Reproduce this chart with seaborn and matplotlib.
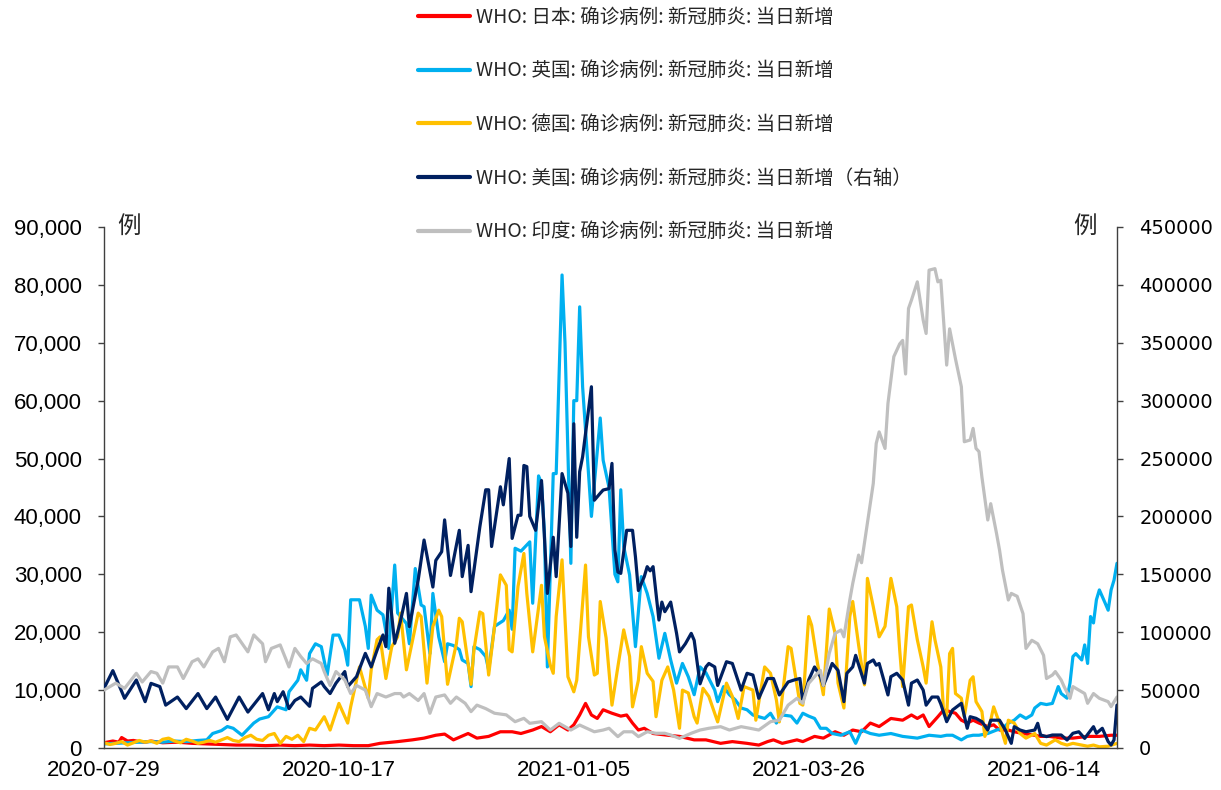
import numpy as np
import pandas as pd
import matplotlib.pyplot as plt
import matplotlib.dates as mdates
from matplotlib.ticker import FuncFormatter, MultipleLocator
import seaborn as sns

START = pd.Timestamp("2020-07-29")
END_DAY = 345

# --- data: day offset from START, daily new cases ---
jp_day = [0, 3, 5, 6, 8, 10, 12, 14, 16, 20, 25, 30, 35, 40, 45, 50, 55, 60, 65, 70, 75, 80, 85, 90,
          94, 100, 105, 109, 113, 116, 119, 124, 127, 131, 135, 139, 142, 146, 149, 152, 155, 158,
          160, 162, 164, 166, 168, 170, 173, 176, 178, 180, 182, 184, 187, 192, 196, 201, 205, 210,
          214, 219, 223, 226, 228, 231, 236, 238, 242, 245, 249, 252, 255, 258, 261, 264, 268, 272,
          275, 277, 279, 281, 284, 286, 288, 290, 292, 294, 296, 298, 301, 303, 305, 308, 310, 313,
          317, 319, 322, 326, 330, 335, 339, 343, 345]
jp_val = [900, 1200, 1000, 1800, 1200, 1300, 1100, 1000, 1200, 900, 1000, 800, 700, 600, 500, 500,
          400, 500, 400, 500, 400, 500, 400, 400, 800, 1100, 1400, 1700, 2200, 2400, 1400, 2500,
          1700, 2000, 2800, 2800, 2500, 3100, 3700, 2800, 4000, 3100, 4000, 5700, 7700, 5700, 5100,
          6600, 6000, 5500, 5700, 4300, 3100, 3400, 2500, 2200, 2000, 1400, 1400, 800, 1100, 800,
          500, 1100, 1400, 800, 1400, 1100, 2000, 1700, 2800, 2200, 3100, 2800, 4300, 3700, 5100,
          4800, 5700, 5100, 5700, 3700, 5400, 6600, 6300, 6000, 4800, 4300, 4800, 4300, 3700, 4000,
          3100, 3100, 2800, 2500, 2200, 2000, 2000, 1700, 1700, 2000, 2000, 2200, 2200]

uk_day = [0, 4, 8, 12, 16, 20, 24, 28, 32, 35, 37, 40, 42, 44, 47, 51, 53, 56, 59, 62, 63, 66, 67,
          69, 70, 72, 74, 76, 78, 80, 82, 83, 84, 87, 89, 90, 91, 93, 95, 97, 99, 100, 103, 104, 106,
          108, 109, 111, 112, 114, 116, 117, 119, 121, 122, 124, 125, 126, 128, 130, 131, 133, 136,
          138, 139, 140, 142, 145, 146, 148, 149, 150, 151, 153, 154, 156, 157, 159, 160, 161, 162,
          163, 165, 166, 169, 170, 172, 174, 175, 176, 177, 179, 181, 183, 185, 187, 189, 191, 193,
          195, 197, 199, 201, 203, 205, 208, 209, 211, 213, 215, 217, 219, 221, 225, 227, 229, 231,
          234, 236, 238, 240, 242, 244, 246, 248, 251, 254, 256, 258, 261, 264, 268, 272, 277, 281,
          285, 287, 289, 292, 294, 296, 298, 301, 304, 306, 308, 310, 312, 314, 316, 317, 319, 321,
          323, 325, 326, 328, 329, 330, 331, 333, 334, 335, 336, 337, 338, 339, 341, 342, 343, 344,
          345]
uk_val = [700, 800, 900, 1000, 1100, 1000, 1200, 1100, 1300, 1400, 2500, 3000, 3700, 3400, 2200,
          4300, 5000, 5400, 7100, 6600, 9700, 11700, 13500, 11700, 16300, 18000, 17500, 12600, 19500,
          19500, 17000, 14300, 25600, 25600, 21000, 17200, 26400, 23800, 23000, 17200, 31600, 23300,
          21500, 18000, 31000, 24700, 24400, 16300, 26700, 19200, 14900, 18000, 17700, 17000, 15200,
          14600, 10600, 17500, 17000, 15800, 13500, 21000, 22000, 23800, 20500, 34500, 34000, 35600,
          25000, 47000, 45700, 37000, 14000, 47400, 47400, 81700, 70000, 31900, 60000, 60000, 76200,
          62400, 47400, 40000, 57000, 49700, 45000, 30000, 28700, 44600, 34800, 29900, 17500, 29600,
          26700, 22700, 15500, 19800, 15200, 11200, 14600, 12300, 9200, 14000, 13000, 10000, 8000,
          10600, 9200, 8300, 6900, 6600, 5700, 5100, 6000, 4300, 5700, 5500, 4300, 6000, 5500, 5100,
          3400, 3400, 2500, 2200, 2800, 800, 3100, 2500, 2200, 2500, 2000, 1700, 2200, 2000, 2200,
          2200, 1400, 2000, 2200, 2200, 2500, 3100, 3400, 4300, 4800, 5700, 5100, 5700, 6900, 7700,
          7500, 7700, 10600, 9400, 8600, 11200, 15800, 16300, 15200, 17800, 14600, 22700, 21600,
          25600, 27300, 25000, 23800, 27300, 29000, 31900]

de_day = [0, 2, 4, 6, 8, 10, 12, 14, 16, 18, 20, 22, 24, 26, 28, 30, 32, 34, 36, 38, 40, 42, 44, 46,
          48, 50, 52, 54, 56, 58, 60, 62, 64, 66, 68, 70, 72, 75, 77, 80, 83, 84, 86, 87, 90, 91, 93,
          94, 96, 98, 100, 101, 103, 107, 108, 110, 112, 114, 115, 117, 120, 121, 122, 125, 126, 128,
          129, 131, 133, 135, 137, 138, 139, 141, 143, 144, 146, 149, 150, 152, 153, 154, 156, 158,
          160, 161, 164, 165, 167, 168, 169, 171, 173, 175, 177, 179, 180, 182, 183, 185, 187, 188,
          190, 192, 194, 196, 197, 199, 201, 202, 204, 206, 209, 212, 214, 216, 218, 221, 222, 225,
          227, 229, 230, 233, 234, 235, 237, 238, 240, 241, 243, 245, 247, 249, 250, 252, 254, 255,
          257, 259, 260, 262, 264, 266, 268, 270, 271, 272, 274, 275, 277, 279, 280, 282, 283, 285,
          286, 287, 288, 289, 290, 292, 293, 295, 296, 297, 299, 300, 302, 303, 305, 307, 308, 310,
          312, 314, 317, 319, 321, 324, 326, 328, 330, 333, 335, 337, 339, 342, 345]
de_val = [900, 600, 800, 1100, 500, 900, 1300, 1000, 1200, 800, 1500, 1700, 1200, 900, 1500, 1200,
          800, 1000, 1300, 1000, 1400, 1800, 1300, 1100, 1800, 2200, 1500, 1300, 2200, 2500, 800,
          2000, 1500, 2200, 1100, 3400, 3100, 5400, 3100, 7700, 4300, 7100, 11700, 14000, 8600,
          13500, 18700, 19200, 12000, 17500, 19200, 23300, 13500, 23300, 22700, 11200, 21000, 23800,
          22700, 11000, 18000, 22400, 21800, 11000, 17000, 23500, 23200, 12600, 21000, 29900, 28100,
          17000, 16600, 27900, 33600, 26700, 16600, 28100, 19200, 14300, 12900, 22700, 32500, 12300,
          9700, 11700, 31600, 19200, 12600, 12900, 25300, 19000, 7400, 14000, 20400, 15800, 7100,
          11700, 17500, 12900, 11500, 5400, 11700, 14000, 10000, 3400, 10000, 9500, 5400, 4300,
          10300, 8900, 4500, 11200, 8900, 5100, 10600, 10000, 4800, 14000, 12900, 8300, 4500, 17500,
          17200, 14000, 7700, 7400, 22700, 21200, 14600, 9200, 24000, 19800, 11200, 6900, 22700,
          25300, 17800, 10900, 29300, 24400, 19200, 21000, 29300, 24400, 16900, 10600, 24400, 24700,
          18700, 14000, 11200, 21800, 18700, 14000, 6000, 5500, 16300, 17200, 9400, 8600, 5400,
          11700, 12300, 8000, 6300, 2000, 4800, 7100, 4300, 800, 4800, 4300, 2500, 1700, 2500, 800,
          500, 1400, 800, 500, 800, 500, 300, 500, 200, 300, 800]

us_day = [0, 3, 7, 11, 14, 16, 19, 21, 25, 28, 32, 35, 38, 42, 46, 49, 54, 56, 58, 59, 61, 63, 65,
          67, 70, 71, 74, 75, 77, 79, 82, 83, 86, 89, 91, 93, 95, 96, 97, 99, 101, 103, 104, 107, 109,
          112, 113, 115, 116, 118, 121, 122, 124, 125, 128, 130, 131, 132, 135, 136, 138, 139, 141,
          142, 143, 144, 145, 147, 149, 151, 153, 154, 156, 158, 159, 160, 161, 162, 163, 166, 167,
          169, 170, 172, 173, 174, 175, 176, 178, 180, 181, 182, 184, 185, 186, 187, 189, 190, 191,
          193, 195, 196, 198, 200, 201, 203, 205, 206, 208, 209, 212, 214, 217, 219, 221, 223, 226,
          228, 230, 233, 235, 237, 238, 240, 242, 244, 245, 247, 248, 250, 252, 253, 255, 256, 259,
          260, 262, 263, 264, 267, 268, 270, 272, 274, 275, 277, 279, 280, 282, 284, 285, 287, 289,
          292, 294, 295, 297, 299, 301, 302, 305, 307, 309, 310, 312, 314, 317, 318, 319, 321, 323,
          326, 328, 330, 332, 334, 337, 338, 340, 342, 343, 344, 345]
us_val = [51500, 66800, 42900, 58700, 40000, 55800, 53000, 37000, 44000, 34000, 47000, 34000, 44000,
          24700, 44000, 31000, 47000, 33000, 47000, 40000, 48600, 34000, 41000, 44000, 36000, 51500,
          57000, 53000, 47000, 56000, 66000, 53000, 61600, 81700, 70000, 84600, 97600, 87500, 138000,
          90400, 110000, 133500, 104800, 145000, 179600, 139000, 162000, 169500, 197000, 149000,
          188000, 148000, 175000, 135000, 191000, 223000, 223000, 174000, 225600, 210000, 250000,
          181000, 201000, 201000, 244000, 243000, 200000, 188000, 231000, 133500, 182000, 148000,
          237000, 220000, 174000, 280000, 182000, 238600, 251500, 312000, 214000, 220000, 222800,
          224000, 245800, 171000, 152000, 150800, 188000, 188000, 165000, 136000, 148000, 156600,
          153000, 156600, 110500, 126000, 117700, 126000, 99000, 83000, 90000, 99000, 93000, 55400,
          70000, 73000, 70000, 54000, 74500, 73000, 50000, 64500, 63000, 42900, 60000, 60000, 45800,
          57000, 58700, 60000, 40000, 58700, 70000, 61600, 54000, 66000, 73000, 67000, 40000, 64500,
          70000, 80000, 56000, 73000, 76000, 71500, 73000, 45800, 61600, 64500, 58700, 37000, 56000,
          58700, 50000, 37000, 44000, 44000, 38000, 22700, 32800, 38600, 17000, 27000, 25600, 22700,
          15500, 24000, 24000, 15500, 4000, 18400, 15500, 14000, 15500, 21300, 11200, 9800, 11200,
          11200, 6900, 12700, 14000, 8300, 18400, 12700, 17000, 5500, 2600, 7000, 37000]

in_day = [0, 4, 7, 11, 13, 16, 18, 20, 22, 25, 27, 30, 32, 34, 37, 39, 41, 43, 45, 49, 51, 54, 55,
          57, 60, 63, 65, 67, 69, 71, 74, 75, 77, 79, 82, 84, 86, 89, 91, 93, 96, 99, 101, 102, 104,
          107, 109, 111, 113, 116, 118, 120, 123, 125, 127, 130, 133, 137, 140, 143, 145, 149, 152,
          155, 159, 162, 167, 170, 172, 175, 177, 180, 182, 185, 188, 191, 193, 196, 200, 203, 206,
          210, 213, 217, 220, 223, 227, 230, 233, 236, 238, 240, 243, 244, 245, 247, 249, 251, 252,
          254, 255, 257, 258, 260, 262, 263, 264, 266, 267, 269, 271, 272, 273, 274, 275, 277, 279,
          280, 281, 283, 284, 285, 287, 288, 290, 292, 293, 295, 296, 297, 298, 299, 301, 302, 304,
          305, 306, 308, 309, 311, 313, 314, 316, 318, 320, 321, 323, 324, 326, 327, 329, 330, 332,
          334, 335, 337, 339, 342, 343, 345]
in_val = [50000, 56000, 51500, 64500, 57000, 66000, 64500, 56000, 70000, 70000, 60000, 74500, 77000,
          70000, 83000, 86000, 74500, 96000, 97600, 83000, 97600, 90000, 74500, 86000, 89000, 70000,
          86000, 79000, 73000, 77000, 73000, 66000, 54000, 66000, 58700, 47000, 54000, 50000, 35700,
          47000, 44000, 47000, 47000, 44000, 47000, 41000, 47000, 30000, 44000, 45800, 38600, 44000,
          38600, 31400, 37000, 34000, 30000, 28600, 22700, 25600, 21300, 22700, 15500, 21300, 15500,
          19800, 14000, 15500, 17000, 9800, 14000, 14000, 9800, 14000, 12700, 12700, 11200, 8300,
          12700, 15500, 17000, 18400, 15500, 18400, 17000, 15500, 22700, 24000, 37000, 42900, 38600,
          55800, 64500, 67000, 54000, 81700, 99000, 101900, 96000, 127800, 142000, 166600, 160000,
          194000, 228500, 263000, 273000, 258700, 297600, 338000, 349000, 352000, 323000, 379600,
          386800, 402600, 369500, 358000, 412700, 414000, 402600, 404000, 330700, 362000, 336000,
          312000, 264500, 266000, 276000, 258700, 256000, 234000, 196900, 211000, 185000, 171000,
          153700, 127800, 133500, 131000, 116000, 86000, 93000, 90000, 80000, 60000, 63000, 66000,
          58700, 53000, 42900, 53000, 50000, 47000, 38600, 47000, 42900, 40000, 35700, 44000]

labels = ["WHO: 日本: 确诊病例: 新冠肺炎: 当日新增",
          "WHO: 英国: 确诊病例: 新冠肺炎: 当日新增",
          "WHO: 德国: 确诊病例: 新冠肺炎: 当日新增",
          "WHO: 美国: 确诊病例: 新冠肺炎: 当日新增（右轴）",
          "WHO: 印度: 确诊病例: 新冠肺炎: 当日新增"]
colors = ["#FF0000", "#00B0F0", "#FFC000", "#002060", "#BFBFBF"]
tick_days = [0, 80, 160, 240, 320]


def to_frame(days, vals):
    return pd.DataFrame({"date": START + pd.to_timedelta(days, unit="D"), "value": vals})


sns.set_theme(style="white")
plt.rcParams["font.family"] = ["Noto Sans CJK SC", "DejaVu Sans"]
axis_col = "#404040"

fig = plt.figure(figsize=(12.21, 7.90), dpi=100)
ax = fig.add_axes([0.0852, 0.0532, 0.8296, 0.6595])
ax2 = ax.twinx()

left_series = [(jp_day, jp_val), (uk_day, uk_val), (de_day, de_val)]
right_series = [(us_day, us_val), (in_day, in_val)]

for i, (d, v) in enumerate(left_series):
    sns.lineplot(data=to_frame(d, v), x="date", y="value", ax=ax, color=colors[i],
                 lw=2.3, label=labels[i], legend=False)
for i, (d, v) in enumerate(right_series):
    sns.lineplot(data=to_frame(d, v), x="date", y="value", ax=ax2, color=colors[3 + i],
                 lw=2.3, label=labels[3 + i], legend=False)

ax.set_xlim(START, START + pd.Timedelta(days=END_DAY))
ax.set_ylim(0, 90000)
ax2.set_ylim(0, 450000)
ax.set_xlabel("")
ax.set_ylabel("")
ax2.set_ylabel("")

ax.set_xticks([START + pd.Timedelta(days=d) for d in tick_days])
ax.xaxis.set_major_formatter(mdates.DateFormatter("%Y-%m-%d"))
ax.yaxis.set_major_locator(MultipleLocator(10000))
ax.yaxis.set_major_formatter(FuncFormatter(lambda v, p: f"{v:,.0f}"))
ax2.yaxis.set_major_locator(MultipleLocator(50000))
ax2.yaxis.set_major_formatter(FuncFormatter(lambda v, p: f"{v:.0f}"))

ax.tick_params(axis="x", direction="in", length=5, width=1, color=axis_col, pad=9,
               labelsize=16, labelcolor="black", labelfontfamily="Liberation Sans")
ax.tick_params(axis="y", direction="out", length=4, width=1, color=axis_col, pad=12,
               labelsize=16, labelcolor="black", labelfontfamily="Liberation Sans")
ax2.tick_params(axis="y", direction="out", length=4, width=1, color=axis_col, pad=12,
                labelsize=14, labelcolor="black", labelfontfamily="DejaVu Sans")

for a in (ax, ax2):
    a.spines["top"].set_visible(False)
    for s in ("left", "right", "bottom"):
        a.spines[s].set_color(axis_col)
        a.spines[s].set_linewidth(1)
ax.spines["right"].set_visible(False)
ax2.spines["left"].set_visible(False)
ax2.spines["bottom"].set_visible(False)

ax.text(0.025, 1.0, "例", transform=ax.transAxes, ha="center", va="center", fontsize=17)
ax.text(0.968, 1.0, "例", transform=ax.transAxes, ha="center", va="center", fontsize=17)

handles = ax.get_lines() + ax2.get_lines()
leg = fig.legend(handles, labels, loc="upper left", bbox_to_anchor=(0.3423, 0.9915), frameon=False,
                 fontsize=14, handlelength=2.68, handletextpad=0.3, labelspacing=1.68,
                 borderpad=0, borderaxespad=0)
for h in leg.get_lines():
    h.set_linewidth(3)

fig.savefig("out.png", dpi=100)
